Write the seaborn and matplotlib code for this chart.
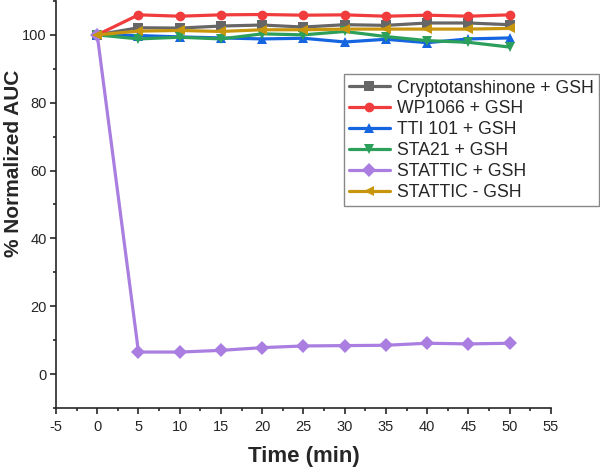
import pandas as pd
import matplotlib
matplotlib.use('Agg')
import matplotlib.pyplot as plt
from matplotlib.ticker import MultipleLocator
import seaborn as sns

# datos
tiempo = [0, 5, 10, 15, 20, 25, 30, 35, 40, 45, 50]
cripto = [100, 102.1, 102.0, 102.6, 102.9, 102.3, 103.0, 102.8, 103.5, 103.5, 103.0]
wp1066 = [100, 105.9, 105.5, 105.9, 106.0, 105.8, 105.9, 105.5, 105.8, 105.5, 105.9]
tti101 = [100, 99.8, 99.4, 99.1, 98.8, 99.0, 97.9, 98.7, 97.7, 98.8, 99.1]
sta21 = [100, 98.8, 99.3, 98.8, 100.3, 100.0, 101.0, 99.5, 98.3, 97.8, 96.4]
stattic_mas = [100, 6.5, 6.5, 7.0, 7.8, 8.3, 8.4, 8.5, 9.1, 8.9, 9.1]
stattic_menos = [100, 101.1, 101.3, 101.0, 101.5, 101.5, 101.7, 101.7, 101.7, 101.7, 101.9]

series = {
    "Cryptotanshinone + GSH": cripto,
    "WP1066 + GSH": wp1066,
    "TTI 101 + GSH": tti101,
    "STA21 + GSH": sta21,
    "STATTIC + GSH": stattic_mas,
    "STATTIC - GSH": stattic_menos,
}
colores = ["#666666", "#f03c3c", "#1565e0", "#2ca05a", "#a97ee0", "#c8960c"]
marcadores = ["s", "o", "^", "v", "D", "<"]

filas = []
for nombre, valores in series.items():
    for t, v in zip(tiempo, valores):
        filas.append({"Tiempo": t, "AUC": v, "Serie": nombre})
df = pd.DataFrame(filas)

sns.set_style("ticks")
plt.rcParams['font.family'] = ['Liberation Sans', 'DejaVu Sans']
plt.rcParams['axes.unicode_minus'] = False

fig = plt.figure(figsize=(6, 4.69), dpi=100)
ax = fig.add_axes([0.0933, 0.13, 0.825, 0.868])

sns.lineplot(data=df, x="Tiempo", y="AUC", hue="Serie", style="Serie",
             palette=colores, markers=marcadores, dashes=False,
             linewidth=2.3, markersize=7, markeredgewidth=0, ax=ax)

ax.set_xlim(-5, 55)
ax.set_ylim(-10, 110)
ax.xaxis.set_major_locator(MultipleLocator(5))
ax.xaxis.set_minor_locator(MultipleLocator(2.5))
ax.set_yticks([0, 20, 40, 60, 80, 100])
ax.set_yticks([-10, 10, 30, 50, 70, 90, 110], minor=True)
ax.tick_params(which='major', direction='out', length=4.5, width=1.2, labelsize=10.5, pad=2)
ax.tick_params(axis='x', which='major', pad=4)
ax.tick_params(which='minor', direction='out', length=2.5, width=1.2)

ax.set_xlabel("Time (min)", fontsize=16, fontweight='bold', labelpad=9)
ax.set_ylabel("% Normalized AUC", fontsize=15, fontweight='bold')
ax.yaxis.set_label_coords(-0.066, 0.6)
sns.despine(ax=ax)
for s in ax.spines.values():
    s.set_linewidth(1.2)

leg = ax.legend(loc='upper right', bbox_to_anchor=(1.097, 0.82), fontsize=12.7,
                frameon=True, fancybox=False, framealpha=1, edgecolor='#888888',
                handlelength=2.3, borderpad=0.3, labelspacing=0.22, handletextpad=0.4,
                borderaxespad=0)
leg.get_frame().set_linewidth(1)

plt.savefig("out.png", dpi=100)
plt.close()
